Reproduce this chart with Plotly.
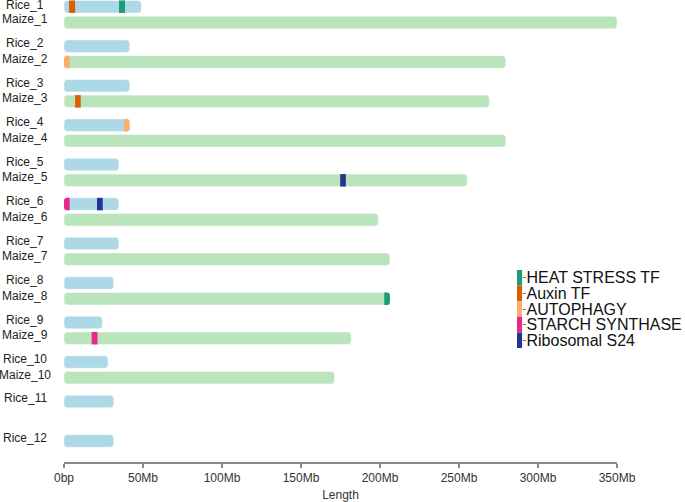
import plotly.graph_objects as go

# ---------------- data ----------------
rice_names = [f"Rice_{i}" for i in range(1, 13)]
rice_lengths = [49.0, 41.6, 41.6, 41.6, 34.8, 34.8, 34.8, 31.5, 24.3, 27.9, 31.5, 31.5]  # Mb
maize_names = [f"Maize_{i}" for i in range(1, 11)]
maize_lengths = [350.0, 279.6, 269.2, 279.7, 255.2, 199.0, 206.3, 206.3, 181.8, 171.2]  # Mb

gene_chrom = ["Rice_1", "Rice_1", "Maize_2", "Maize_3", "Rice_4", "Maize_5",
              "Rice_6", "Rice_6", "Maize_8", "Maize_9"]
gene_type = ["Auxin TF", "HEAT STRESS TF", "AUTOPHAGY", "Auxin TF", "AUTOPHAGY",
             "Ribosomal S24", "STARCH SYNTHASE", "Ribosomal S24", "HEAT STRESS TF",
             "STARCH SYNTHASE"]
gene_start = [3.2, 34.8, 0.0, 7.0, 38.0, 174.8, 0.0, 20.9, 202.7, 17.5]
gene_end = [7.0, 38.6, 3.6, 10.6, 41.6, 178.4, 3.6, 24.5, 206.3, 21.2]

legend_names = ["HEAT STRESS TF", "Auxin TF", "AUTOPHAGY", "STARCH SYNTHASE", "Ribosomal S24"]
legend_colors = ["#1b9e77", "#d95f02", "#fdae6b", "#e7298a", "#253494"]

x_ticks = [0, 50, 100, 150, 200, 250, 300, 350]
x_ticktext = ["0bp", "50Mb", "100Mb", "150Mb", "200Mb", "250Mb", "300Mb", "350Mb"]

RICE_COLOR = "#add8e6"
MAIZE_COLOR = "#bae4bc"

# ---------------- layout geometry ----------------
W, H = 685, 502
ML, MR, MT, MB = 64, 68, 0, 40
plot_w = W - ML - MR
plot_h = H - MT - MB
X_RANGE = [0, 350]
Y_RANGE = [11.534, -0.17]  # reversed
MAIZE_OFFSET = 0.398
px_x = (X_RANGE[1] - X_RANGE[0]) / plot_w
px_y = (Y_RANGE[0] - Y_RANGE[1]) / plot_h
BAR_H = 12.5 * px_y
RX = 3.5 * px_x
RY = 3.5 * px_y

# positions
chrom_pos = {}
for i, n in enumerate(rice_names):
    chrom_pos[n] = i
for i, n in enumerate(maize_names):
    chrom_pos[n] = i + MAIZE_OFFSET
chrom_len = dict(zip(rice_names, rice_lengths))
chrom_len.update(dict(zip(maize_names, maize_lengths)))


def rrect(x0, x1, yc, rl, rr):
    y0, y1 = yc - BAR_H / 2, yc + BAR_H / 2
    rx = min(RX, (x1 - x0) / 2)
    ry = RY
    p = f"M {x0 + (rx if rl else 0)},{y0} L {x1 - (rx if rr else 0)},{y0} "
    if rr:
        p += f"Q {x1},{y0} {x1},{y0 + ry} L {x1},{y1 - ry} Q {x1},{y1} {x1 - rx},{y1} "
    else:
        p += f"L {x1},{y1} "
    p += f"L {x0 + (rx if rl else 0)},{y1} "
    if rl:
        p += f"Q {x0},{y1} {x0},{y1 - ry} L {x0},{y0 + ry} Q {x0},{y0} {x0 + rx},{y0} "
    else:
        p += f"L {x0},{y0} "
    return p + "Z"


shapes = []
for names, lens, col in [(rice_names, rice_lengths, RICE_COLOR), (maize_names, maize_lengths, MAIZE_COLOR)]:
    for n, L in zip(names, lens):
        shapes.append(dict(type="path", xref="x", yref="y", path=rrect(0, L, chrom_pos[n], True, True),
                           fillcolor=col, line=dict(color="rgba(255,255,255,0.6)", width=0.8), layer="above"))

color_of = dict(zip(legend_names, legend_colors))
for c, t, s, e in zip(gene_chrom, gene_type, gene_start, gene_end):
    L = chrom_len[c]
    shapes.append(dict(type="path", xref="x", yref="y",
                       path=rrect(s, e, chrom_pos[c], s <= 0.01, e >= L - 0.01),
                       fillcolor=color_of[t], line=dict(width=0), layer="above"))

all_names = rice_names + maize_names

# chromosome name labels (centred in the left margin, slightly above bar centre)
annotations = []
for n in all_names:
    annotations.append(dict(text=n, xref="paper", yref="y", x=0, y=chrom_pos[n],
                            xanchor="center", yanchor="middle", xshift=-39,
                            yshift=1.5 if n == "Rice_1" else 3, borderpad=0,
                            showarrow=False, font=dict(size=12, color="#222")))

fig = go.Figure()

# invisible anchor trace for hover on chromosome ends
fig.add_trace(go.Scatter(
    x=[chrom_len[n] for n in all_names], y=[chrom_pos[n] for n in all_names],
    mode="markers", marker=dict(size=1, opacity=0), text=all_names,
    hovertemplate="%{text}: %{x} Mb<extra></extra>", showlegend=False))

# legend color column
fig.add_trace(go.Bar(
    x=[1] * len(legend_names), y=legend_names, orientation="h", width=1,
    marker=dict(color=legend_colors, line=dict(width=0)),
    xaxis="x2", yaxis="y2", showlegend=False, hoverinfo="y"))

# legend geometry (pixels -> paper)
lx0, lx1 = 517, 522.3
ly_top, ly_bot = 270, 348
fig.update_layout(
    width=W, height=H,
    margin=dict(l=ML, r=MR, t=MT, b=MB, autoexpand=False),
    paper_bgcolor="white", plot_bgcolor="white",
    font=dict(family="Arial, Liberation Sans, sans-serif", color="#222", size=12),
    shapes=shapes,
    annotations=annotations,
    showlegend=False,
    xaxis=dict(range=X_RANGE, tickvals=x_ticks, ticktext=x_ticktext, showgrid=False, zeroline=False,
               showline=True, linecolor="#8a8a8a", linewidth=1.5, ticks="outside", ticklen=4,
               tickcolor="#8a8a8a", tickwidth=1.5, tickfont=dict(size=12, color="#333"),
               title=dict(text="Length", font=dict(size=12, color="#333"), standoff=9),
               domain=[0, 1], anchor="y", fixedrange=True),
    yaxis=dict(range=Y_RANGE, showticklabels=False,
               showgrid=False, zeroline=False, showline=False, ticks="",
               domain=[0, 1], anchor="x", fixedrange=True),
    xaxis2=dict(domain=[(lx0 - ML) / plot_w, (lx1 - ML) / plot_w], range=[0, 1], visible=False,
                anchor="y2", fixedrange=True),
    yaxis2=dict(domain=[(MT + plot_h - ly_bot) / plot_h, (MT + plot_h - ly_top) / plot_h],
                anchor="x2", side="right", autorange="reversed", type="category",
                tickmode="array", tickvals=legend_names, ticktext=legend_names,
                showgrid=False, zeroline=False, showline=False, ticks="outside", ticklen=3,
                tickcolor="#777", tickwidth=1, tickfont=dict(size=16, color="#111"),
                ticklabelstandoff=-3,
                automargin=False, fixedrange=True),
)

fig.write_html("out.html", config={"displayModeBar": False},
               post_script="document.body.style.margin='0';")
